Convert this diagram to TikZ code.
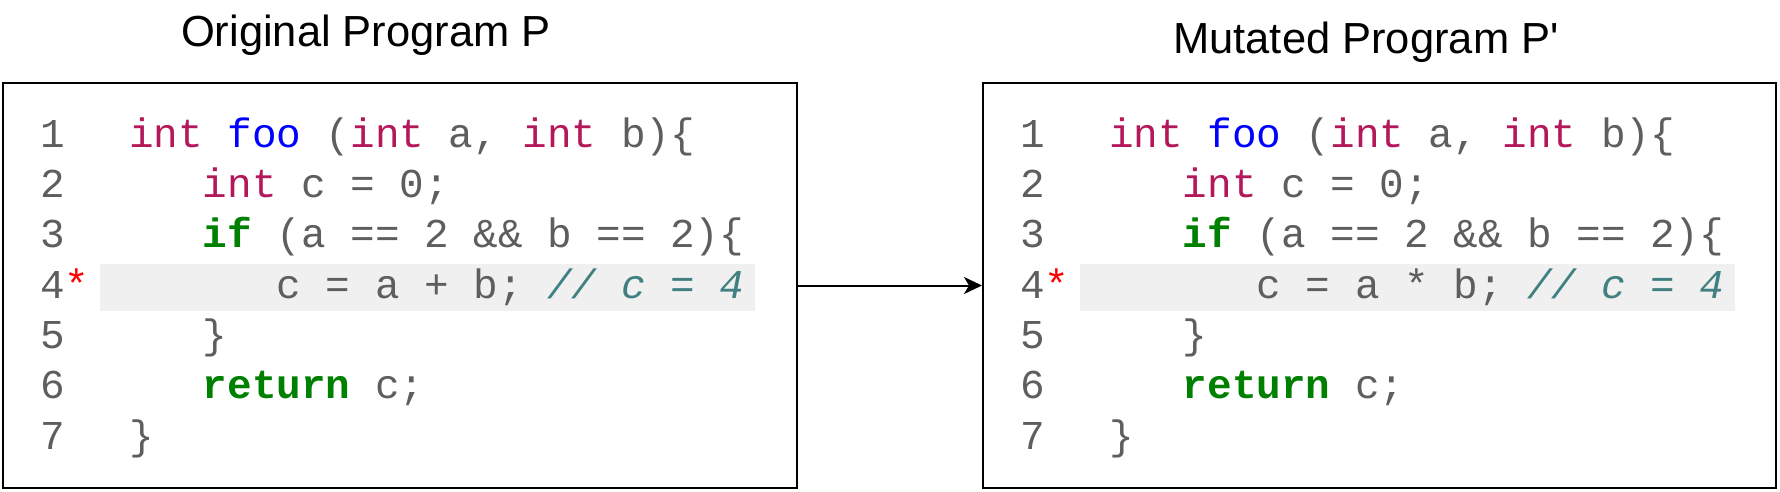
\documentclass[tikz,border=0pt]{standalone}
\usepackage{fontspec}
\usetikzlibrary{arrows.meta}
\newfontfamily\codefont{Liberation Mono}
\newfontfamily\titlefont{Liberation Sans}
\definecolor{codegray}{HTML}{5E5E5E}
\definecolor{numgray}{HTML}{5E5E5E}
\definecolor{ktype}{HTML}{B5185A}
\definecolor{kwgreen}{HTML}{008000}
\definecolor{fnblue}{HTML}{0000FF}
\definecolor{cmteal}{HTML}{408080}
\definecolor{hlgray}{HTML}{F0F0F0}
\definecolor{starred}{HTML}{FF0000}
\newcommand\cType[1]{\textcolor{ktype}{#1}}
\newcommand\cKw[1]{\textcolor{kwgreen}{\bfseries #1}}
\newcommand\cFn[1]{\textcolor{fnblue}{#1}}
\newcommand\cCm[1]{\textcolor{cmteal}{\itshape #1}}
\tikzset{
  codetxt/.style={anchor=base west, inner sep=0pt, outer sep=0pt, text=codegray,
    font=\codefont\fontsize{41}{41}\selectfont},
  lnum/.style={codetxt, text=numgray},
  star/.style={codetxt, text=starred},
  title/.style={anchor=base, inner sep=0pt, font=\titlefont\fontsize{43.5}{43.5}\selectfont},
  progbox/.style={draw=black, line width=2pt, fill=white, minimum height=405pt, inner sep=0pt},
  hl/.style={fill=hlgray},
  arr/.style={draw=black, line width=2pt, -{Stealth[length=18pt,width=17pt,inset=5pt]}}
}
\newcommand\drawcode[2]{%
  \fill[hl] (100,264) rectangle (755,311);
  \node[lnum] (#1n1) at (40,147) {1};
  \node[lnum] (#1n2) at (40,197.3) {2};
  \node[lnum] (#1n3) at (40,247.7) {3};
  \node[lnum] (#1n4) at (40,298) {4};
  \node[star] (#1st) at (64.6,298) {*};
  \node[lnum] (#1n5) at (40,348.3) {5};
  \node[lnum] (#1n6) at (40,398.7) {6};
  \node[lnum] (#1n7) at (40,449) {7};
  \node[codetxt] (#1c1) at (129,147) {\cType{int} \cFn{foo} (\cType{int} a, \cType{int} b)\{};
  \node[codetxt] (#1c2) at (202.8,197.3) {\cType{int} c = 0;};
  \node[codetxt] (#1c3) at (202.8,247.7) {\cKw{if} (a == 2 \&\& b == 2)\{};
  \node[codetxt] (#1c4) at (276.6,298) {c = a #2 b; \cCm{// c = 4}};
  \node[codetxt] (#1c5) at (202.8,348.3) {\}};
  \node[codetxt] (#1c6) at (202.8,398.7) {\cKw{return} c;};
  \node[codetxt] (#1c7) at (129,449) {\}};
}
\begin{document}
\begin{tikzpicture}[x=1pt, y=-1pt]
  \useasboundingbox[fill=white] (0,0) rectangle (1780,492);
  \node[title] (t1) at (366,47) {Original Program P};
  \node[title] (t2) at (1366,54) {Mutated Program P'};
  \node[progbox, minimum width=794pt] (L) at (400,285.5) {};
  \node[progbox, minimum width=793pt] (R) at (1379.5,285.5) {};
  \drawcode{a}{+}
  \begin{scope}[xshift=980pt]
    \drawcode{b}{*}
  \end{scope}
  \draw[arr] (L.east) -- (R.west);
\end{tikzpicture}
\end{document}
